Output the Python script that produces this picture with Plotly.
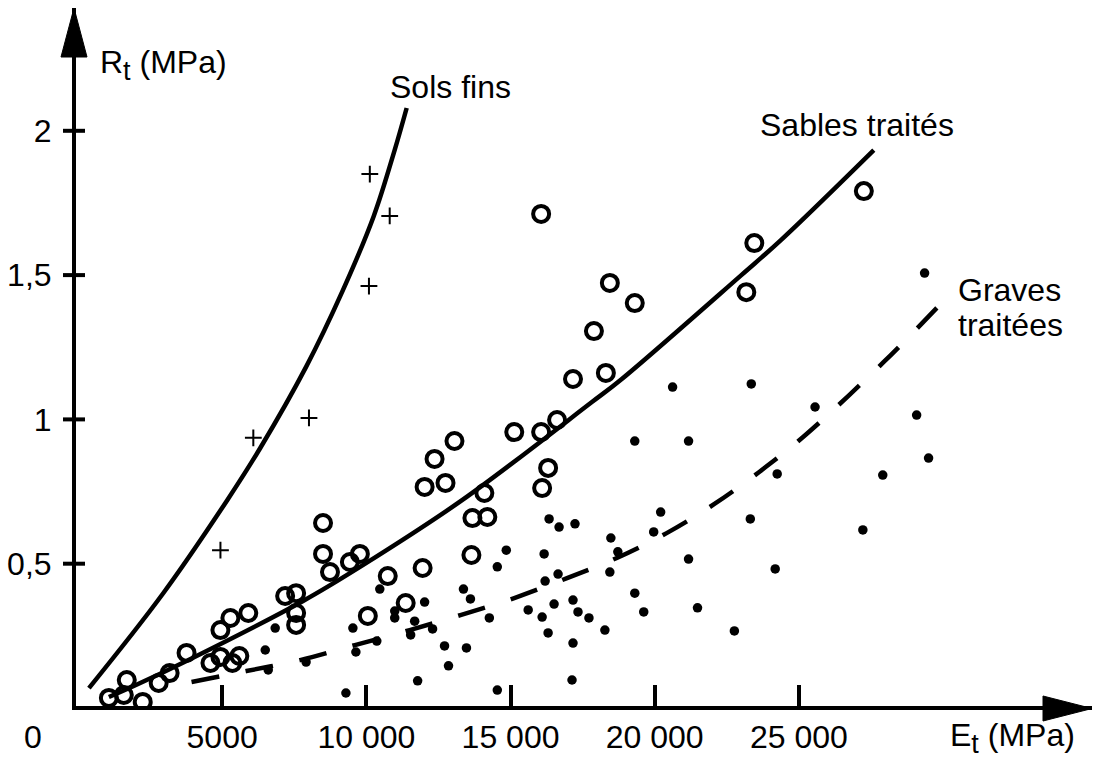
import plotly.graph_objects as go

# ---------------- data ----------------
# Sols fins  (+)
sols_E = [4940, 6080, 8010, 10090, 10120, 10810]
sols_R = [0.547, 0.936, 1.005, 1.462, 1.850, 1.705]

# Sables traités  (o)
sables_E = [1071, 1589, 1692, 2245, 2798, 3178, 3765, 4594, 4939, 4939,
            5285, 5354, 5595, 5906, 7184, 7564, 7564, 7564, 8497, 8497,
            8739, 9429, 9775, 10742, 11364, 11951, 10051, 12020, 12365, 12745,
            13056, 13678, 14196, 14092, 13643, 15129, 16061, 16614, 16303, 16096,
            16061, 18444, 19308, 17892, 17166, 18306, 23453, 23176, 27252]
sables_R = [0.035, 0.045, 0.097, 0.021, 0.087, 0.121, 0.191, 0.156, 0.270, 0.177,
            0.312, 0.156, 0.180, 0.329, 0.388, 0.398, 0.329, 0.288, 0.641, 0.534,
            0.471, 0.506, 0.534, 0.457, 0.364, 0.485, 0.319, 0.766, 0.863, 0.780,
            0.925, 0.658, 0.662, 0.745, 0.530, 0.956, 0.956, 0.998, 0.832, 0.762,
            1.712, 1.473, 1.403, 1.306, 1.140, 1.161, 1.611, 1.441, 1.791]

# Graves traitées  (•)
graves_E = [6839, 6494, 6597, 7910, 9291, 9533, 9637, 10362, 10466, 10984,
            10984, 11675, 11536, 12296, 12020, 11778, 12711, 12849, 13471, 13367,
            13609, 14265, 14541, 14541, 14852, 15612, 16096, 16510, 17166, 17339,
            17719, 16303, 17166, 17132, 16199, 16648, 16165, 16337, 16683, 17235,
            18272, 18444, 18479, 18721, 19308, 19619, 19308, 21173, 20206, 19964,
            21173, 21484, 22762, 23315, 24178, 24247, 25560, 27218, 27908, 29083,
            29497, 29359, 20620, 23349]
graves_R = [0.277, 0.201, 0.132, 0.159, 0.052, 0.277, 0.194, 0.232, 0.412, 0.336,
            0.312, 0.301, 0.253, 0.274, 0.367, 0.094, 0.215, 0.146, 0.208, 0.412,
            0.378, 0.312, 0.489, 0.062, 0.547, 0.340, 0.315, 0.360, 0.374, 0.333,
            0.312, 0.260, 0.225, 0.097, 0.440, 0.464, 0.534, 0.655, 0.627, 0.638,
            0.270, 0.471, 0.589, 0.541, 0.398, 0.333, 0.925, 0.925, 0.679, 0.610,
            0.516, 0.347, 0.267, 0.655, 0.482, 0.811, 1.043, 0.617, 0.807, 1.015,
            0.866, 1.507, 1.112, 1.123]

# trend curves
sols_fit_E = [380, 2936, 5181, 6321, 7910, 9188, 10258, 10984, 11398]
sols_fit_R = [0.069, 0.395, 0.721, 0.901, 1.182, 1.448, 1.705, 1.934, 2.079]

sables_fit_E = [1071, 1934, 3903, 7806, 9878, 13332, 17823, 18859, 23004, 24385, 27597]
sables_fit_R = [0.038, 0.076, 0.170, 0.371, 0.495, 0.721, 1.060, 1.140, 1.500, 1.622, 1.933]

graves_fit_E = [3938, 5837, 7702, 9602, 11502, 13263, 15129, 16959, 18686, 20413,
                22071, 23625, 25145, 27943, 29981]
graves_fit_R = [0.090, 0.128, 0.166, 0.218, 0.270, 0.322, 0.381, 0.450, 0.520, 0.606,
                0.707, 0.818, 0.939, 1.199, 1.407]

x_tickvals = [5000, 10000, 15000, 20000, 25000]
x_ticktext = ["5000", "10 000", "15 000", "20 000", "25 000"]
y_tickvals = [0.5, 1, 1.5, 2]
y_ticktext = ["0,5", "1", "1,5", "2"]

# ---------------- layout geometry ----------------
W, H = 1096, 760
ML, MR, MT, MB = 76, 4, 8, 54
PW, PH = W - ML - MR, H - MT - MB
FONT = "Liberation Sans, Arial, Helvetica, sans-serif"
FS = 32
BLACK = "#000000"


def px(x):
    return (x - ML) / PW


def py(y):
    return (H - MB - y) / PH


fig = go.Figure()

line_common = dict(color=BLACK, width=4.5, shape="spline", smoothing=1.0)
fig.add_trace(go.Scatter(x=sols_fit_E, y=sols_fit_R, mode="lines",
                         line=line_common, hoverinfo="skip", showlegend=False))
fig.add_trace(go.Scatter(x=sables_fit_E, y=sables_fit_R, mode="lines",
                         line=line_common, hoverinfo="skip", showlegend=False))
fig.add_trace(go.Scatter(x=graves_fit_E, y=graves_fit_R, mode="lines",
                         line=dict(color=BLACK, width=4.5, dash="28px,27px",
                                   shape="spline", smoothing=1.0),
                         hoverinfo="skip", showlegend=False))

fig.add_trace(go.Scatter(x=sols_E, y=sols_R, mode="markers", name="Sols fins",
                         marker=dict(symbol="cross-thin-open", size=12, color=BLACK,
                                     line=dict(color=BLACK, width=2)),
                         showlegend=False))
fig.add_trace(go.Scatter(x=sables_E, y=sables_R, mode="markers", name="Sables traités",
                         marker=dict(symbol="circle-open", size=16, color=BLACK,
                                     line=dict(color=BLACK, width=4)),
                         showlegend=False))
fig.add_trace(go.Scatter(x=graves_E, y=graves_R, mode="markers", name="Graves traitées",
                         marker=dict(symbol="circle", size=9.5, color=BLACK,
                                     line=dict(width=0)),
                         showlegend=False))

# axis ranges so that E=0 / R=0 fall on the axis lines
x_per_px = 1 / 0.02895
y_per_px = 1 / 288.6
x_range = [-(ML - 74) * x_per_px, (W - MR - 74) * x_per_px]
y_range = [(708 - (H - MB)) * y_per_px, (708 - MT) * y_per_px]

fig.update_xaxes(range=x_range, showgrid=False, zeroline=False, automargin=False,
                 showline=True, linecolor=BLACK, linewidth=4,
                 ticks="inside", ticklen=21, tickwidth=4, tickcolor=BLACK,
                 tickvals=x_tickvals, ticktext=x_ticktext,
                 tickfont=dict(family=FONT, size=FS, color=BLACK))
fig.update_yaxes(range=y_range, showgrid=False, zeroline=False, automargin=False,
                 showline=True, linecolor=BLACK, linewidth=4,
                 ticks="", ticklabelstandoff=14,
                 tickvals=y_tickvals, ticktext=y_ticktext,
                 tickfont=dict(family=FONT, size=FS, color=BLACK))

shapes = []
# y tick crosses
for v in y_tickvals:
    shapes.append(dict(type="line", xref="paper", yref="y",
                       x0=px(63), x1=px(85), y0=v, y1=v,
                       line=dict(color=BLACK, width=4)))
# arrow heads
shapes.append(dict(type="path", xref="paper", yref="paper",
                   path=f"M {px(74)},{py(8)} L {px(61)},{py(57)} L {px(87)},{py(57)} Z",
                   fillcolor=BLACK, line=dict(color=BLACK, width=1)))
shapes.append(dict(type="path", xref="paper", yref="paper",
                   path=f"M {px(1092)},{py(708.5)} L {px(1043)},{py(696)} L {px(1043)},{py(721)} Z",
                   fillcolor=BLACK, line=dict(color=BLACK, width=1)))

ann_font = dict(family=FONT, size=FS, color=BLACK)
sub_t = '<sub><span style="font-size:27px">t</span></sub>'
annotations = [
    dict(text=f"R{sub_t} (MPa)", x=px(98), y=py(65), xanchor="left", yanchor="middle"),
    dict(text=f"E{sub_t} (MPa)", x=px(948), y=py(738), xanchor="left", yanchor="middle"),
    dict(text="0", x=px(33), y=py(737), xanchor="center", yanchor="middle"),
    dict(text="Sols fins", x=px(388), y=py(87), xanchor="left", yanchor="middle"),
    dict(text="Sables traités", x=px(758), y=py(125), xanchor="left", yanchor="middle"),
    dict(text="Graves", x=px(956), y=py(290), xanchor="left", yanchor="middle"),
    dict(text="traitées", x=px(956), y=py(325), xanchor="left", yanchor="middle"),
]
for a in annotations:
    a.update(xref="paper", yref="paper", showarrow=False, font=ann_font)

fig.update_layout(width=W, height=H,
                  margin=dict(l=ML, r=MR, t=MT, b=MB, pad=0, autoexpand=False),
                  paper_bgcolor="white", plot_bgcolor="white",
                  shapes=shapes, annotations=annotations,
                  showlegend=False)

fig.write_html("out.html",
               config={"displayModeBar": False},
               post_script="document.body.style.margin='0';document.body.style.padding='0';document.body.style.overflow='hidden';")
